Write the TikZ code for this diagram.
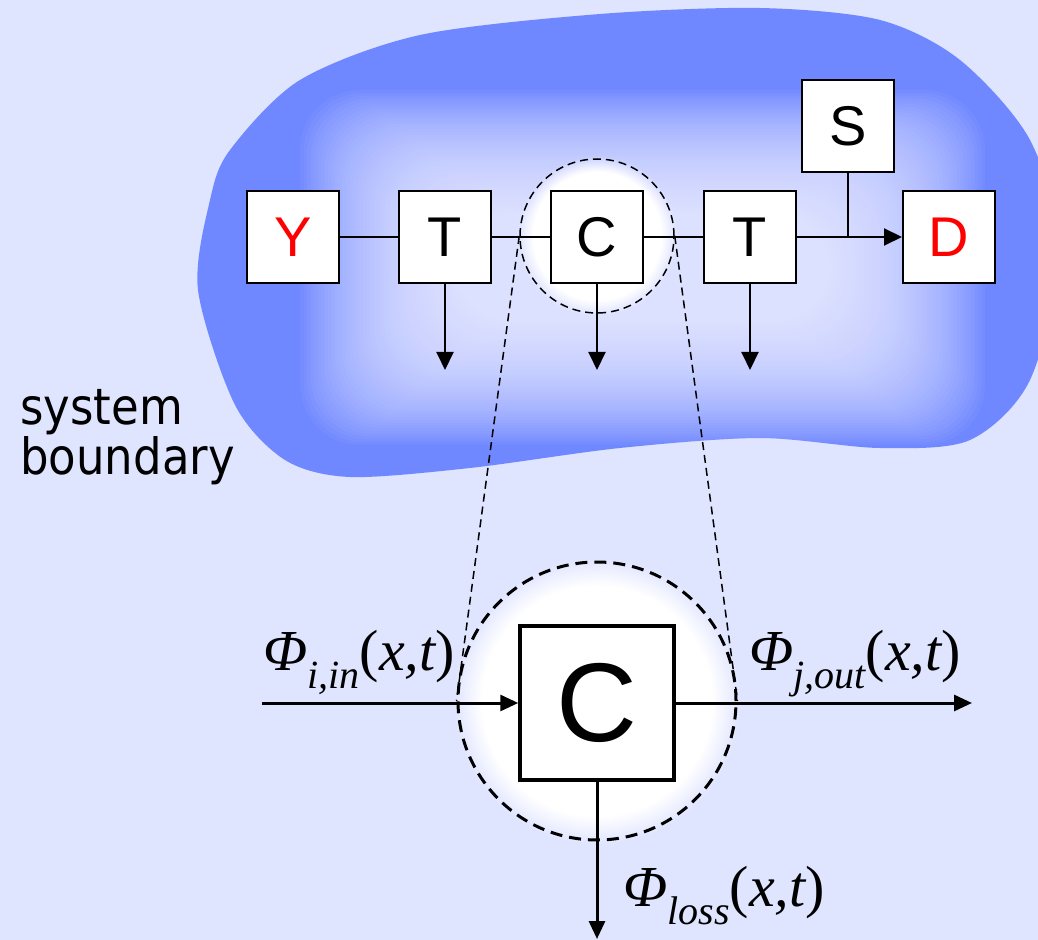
\documentclass[tikz,border=0pt]{standalone}
\usepackage{fontspec}
\setmainfont{Liberation Sans}
\newfontfamily\boundfont{DejaVu Sans Condensed}
\newfontfamily\phifont{Liberation Serif}
\usetikzlibrary{arrows.meta,fadings}
\definecolor{bgblue}{RGB}{223,228,255}
\definecolor{blobblue}{RGB}{112,136,255}
\newcommand{\flux}[1]{{\phifont\itshape Φ\raisebox{-0.32em}{\fontsize{20}{20}\selectfont #1}\upshape(\itshape x,t\upshape)}}
\begin{document}
\begin{tikzpicture}[x=0.5pt,y=-0.5pt,
    box/.style={draw,fill=white,line width=1pt,minimum size=46pt,inner sep=0pt,font=\fontsize{28}{30}\selectfont},
    bigbox/.style={draw,fill=white,line width=1.75pt,minimum size=77pt,inner sep=0pt,font=\fontsize{56}{60}\selectfont},
    zoomring/.style={circle,draw,line width=0.75pt,dash pattern=on 4pt off 2.5pt,minimum size=77pt,inner sep=0pt},
    bigring/.style={circle,draw,line width=1.5pt,dash pattern=on 6pt off 3.5pt,minimum size=139pt,inner sep=0pt},
    flow/.style={line width=1pt,-{Triangle[length=9pt,width=8.5pt]}},
    bigflow/.style={line width=1.5pt,-{Triangle[length=9pt,width=8pt]}},
    fluxlabel/.style={anchor=base west,inner sep=0pt,font=\fontsize{29}{30}\selectfont}]
    \clip (0,0) rectangle (1038,940);
    \fill[bgblue] (0,0) rectangle (1038,940);
    \begin{scope}
        \clip plot[smooth cycle] coordinates {(230,150) (300,80) (420,35) (600,14) (760,8) (880,20) (960,60) (1030,140) (1060,250) (1030,380) (970,440) (880,448) (760,438) (620,448) (470,468) (350,477) (285,460) (235,405) (198,290) (210,200)};
        \fill[blobblue] (0,0) rectangle (1038,940);
        \foreach \k in {0,...,44}
            \fill[white,opacity=0.04,rounded corners=30pt] (300+3.5*\k,90+2.8*\k) rectangle (985-3.5*\k,445-2.8*\k);
    \end{scope}
    \fill[white,path fading=circle with fuzzy edge 20 percent] (597,236) circle (40pt);
    \fill[white,path fading=circle with fuzzy edge 20 percent] (597,701) circle (72pt);

    \node[box,text=red] (Y) at (293,237) {Y};
    \node[box] (T1) at (445,237) {T};
    \node[box] (C) at (597,237) {C};
    \node[box] (T2) at (750,237) {T};
    \node[box,text=red] (D) at (949,237) {D};
    \node[box] (S) at (848,126) {S};
    \coordinate (J) at (848,237);
    \coordinate (T1out) at (445,370);
    \coordinate (Cout) at (597,370);
    \coordinate (T2out) at (750,370);

    \node[zoomring] (Cring) at (597,236) {};
    \node[bigring] (Bring) at (597,701) {};
    \node[bigbox] (Cbig) at (597,703) {C};
    \coordinate (in) at (262,703);
    \coordinate (out) at (972,703);
    \coordinate (loss) at (597,939);

    \draw[line width=1pt] (Y) -- (T1);
    \draw[line width=1pt] (T1) -- (C);
    \draw[line width=1pt] (C) -- (T2);
    \draw[flow] (T2) -- (D);
    \draw[line width=1pt] (S) -- (J);
    \draw[flow] (T1) -- (T1out);
    \draw[flow] (C) -- (Cout);
    \draw[flow] (T2) -- (T2out);

    \draw[line width=0.75pt,dash pattern=on 4pt off 2.5pt] (Cring.west) -- (Bring.west);
    \draw[line width=0.75pt,dash pattern=on 4pt off 2.5pt] (Cring.east) -- (Bring.east);

    \draw[bigflow] (in) -- (Cbig);
    \draw[bigflow] (Cbig) -- (out);
    \draw[bigflow] (Cbig) -- (loss);

    \node[fluxlabel] (phiin) at (263,670) {\flux{i,in}};
    \node[fluxlabel] (phiout) at (749,670) {\flux{j,out}};
    \node[fluxlabel] (philoss) at (623,906) {\flux{loss}};
    \node[anchor=base west,inner sep=0pt,align=left,font=\boundfont\fontsize{25}{24}\selectfont] (bound) at (20,475) {system\\boundary};
\end{tikzpicture}
\end{document}
